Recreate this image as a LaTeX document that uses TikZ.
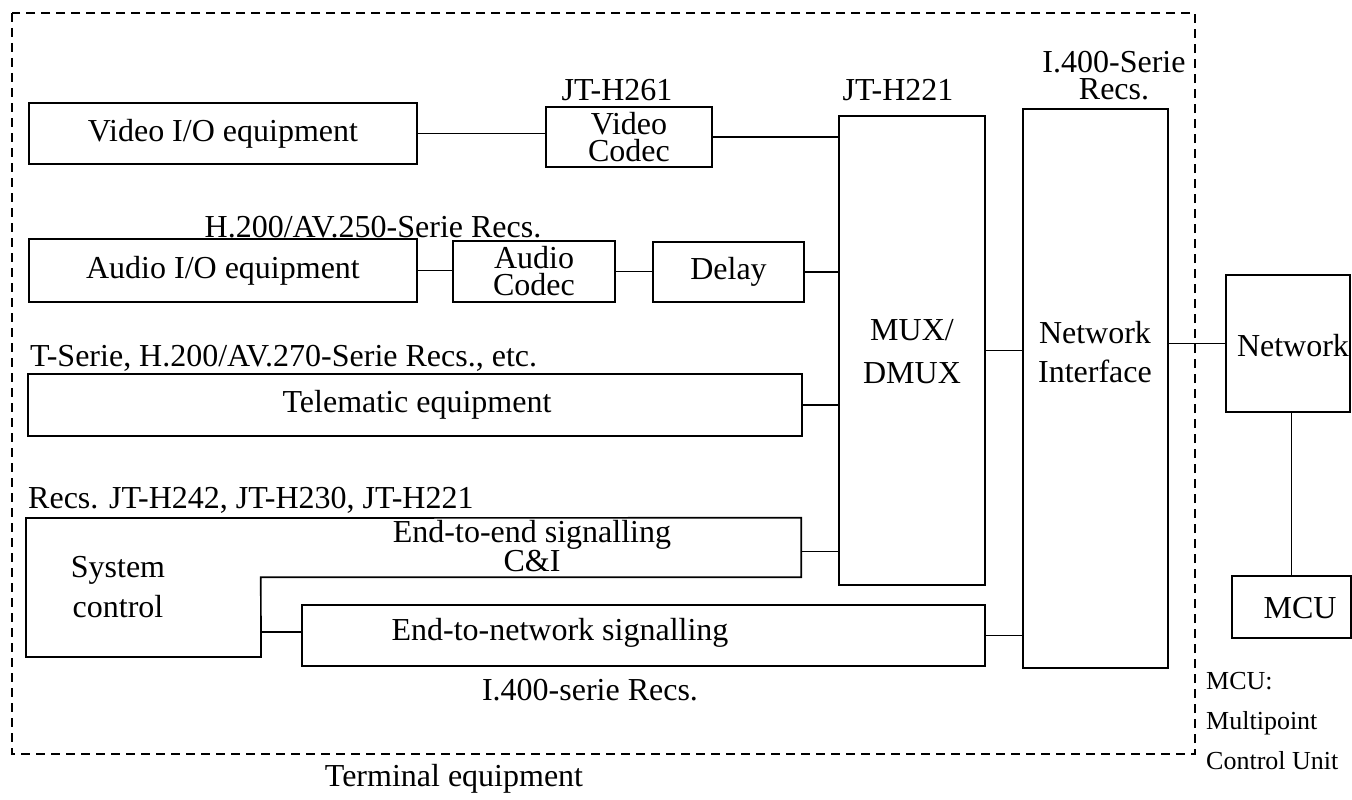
\documentclass[tikz,border=0pt]{standalone}
\usepackage{fontspec}
\setmainfont{Liberation Serif}
\usetikzlibrary{calc}
\begin{document}
\begin{tikzpicture}[x=1pt,y=-1pt,
  every node/.style={font=\fontsize{32}{36}\selectfont,inner sep=0pt},
  blk/.style={draw,line width=1.7pt},
  wire/.style={line width=1.5pt},
  frame/.style={line width=1.4pt,dash pattern=on 9pt off 6pt},
  tight/.style={align=center,font=\fontsize{32}{27}\selectfont},
  loose/.style={align=center,font=\fontsize{32}{40}\selectfont},
  note/.style={align=left,font=\fontsize{26}{40}\selectfont}]
\useasboundingbox (0,0) rectangle (1352,800);

% terminal equipment boundary
\draw[frame] (12,13) rectangle (1195,754);
\node (term) at (454,779) {Terminal equipment};

% video path
\node[blk,minimum width=388pt,minimum height=61pt] (vio) at (223,133.5) {Video I/O equipment};
\node[blk,tight,minimum width=166pt,minimum height=60pt] (vcodec) at (629,137) {Video\\Codec};
\node (h261) at (617,90) {JT-H261};

% audio path
\node (h200) at (373,227) {H.200/AV.250-Serie Recs.};
\node[blk,minimum width=388pt,minimum height=63pt] (aio) at (223,270.5) {Audio I/O equipment};
\node[blk,tight,minimum width=162pt,minimum height=61pt] (acodec) at (534,271.5) {Audio\\Codec};
\node[blk,minimum width=151pt,minimum height=60pt] (delay) at (728.5,272) {Delay};

% telematic
\node[anchor=west] (tser) at (30,358) {T-Serie, H.200/AV.270-Serie Recs., etc.};
\node[blk,minimum width=774pt,minimum height=62pt] (tele) at (415,405) {};
\node (teletxt) at (417,405) {Telematic equipment};

% system control and signalling
\node[anchor=west] (hrecs) at (28,500) {Recs. JT-H242, JT-H230, JT-H221};
\node[minimum width=540pt,minimum height=59pt] (e2e) at (531,547.5) {};
\node[tight] (e2etxt) at (532,546) {End-to-end signalling\\C\&I};
\draw[blk] (26,518) -- (e2e.north east) -- (e2e.south east) -- (e2e.south west)
  -- (261,657) -- (26,657) -- cycle;
\node[loose] (sys) at (118,587) {System\\control};
\coordinate (sysport) at (261,632);
\node[blk,minimum width=683pt,minimum height=61pt] (e2n) at (643.5,635.5) {};
\node (e2ntxt) at (560,633) {End-to-network signalling};
\node (i400a) at (590,690) {I.400-serie Recs.};

% multiplexer and network interface
\node (h221) at (898,90) {JT-H221};
\node[blk,minimum width=146pt,minimum height=469pt] (mux) at (912,350.5) {};
\node[loose,font=\fontsize{32}{43}\selectfont] (muxtxt) at (912,352) {MUX/\\DMUX};
\node[tight,font=\fontsize{32}{27}\selectfont] (i400b) at (1114,76) {I.400-Serie\\Recs.};
\node[blk,minimum width=145pt,minimum height=559pt] (ni) at (1095.5,388.5) {};
\node[loose,font=\fontsize{32}{39}\selectfont] (nitxt) at (1095,352) {Network\\Interface};

% network side
\node[blk,minimum width=124pt,minimum height=137pt] (net) at (1288,343.5) {};
\node (nettxt) at (1293,346) {Network};
\node[blk,minimum width=119pt,minimum height=62pt] (mcu) at (1291.5,607) {};
\node (mcutxt) at (1300,608) {MCU};
\node[note,anchor=north west] (mcunote) at (1206,672) {MCU:\\Multipoint\\Control Unit};

% connections
\draw[wire] (vio.east) -- (vio.east -| vcodec.west);
\draw[wire] (vcodec.east) -- (vcodec.east -| mux.west);
\draw[wire] (aio.east) -- (aio.east -| acodec.west);
\draw[wire] (acodec.east) -- (acodec.east -| delay.west);
\draw[wire] (delay.east) -- (delay.east -| mux.west);
\draw[wire] (tele.east) -- (tele.east -| mux.west);
\draw[wire] ($(e2e.east)+(0,4)$) -- ($(e2e.east -| mux.west)+(0,4)$);
\draw[wire] (sysport) -- (sysport -| e2n.west);
\draw[wire] (e2n.east) -- (e2n.east -| ni.west);
\draw[wire] (mux.east) -- (mux.east -| ni.west);
\draw[wire] (ni.east |- net.west) -- (net.west);
\draw[wire] (net.south -| mcu.north) -- (mcu.north);
\end{tikzpicture}
\end{document}
